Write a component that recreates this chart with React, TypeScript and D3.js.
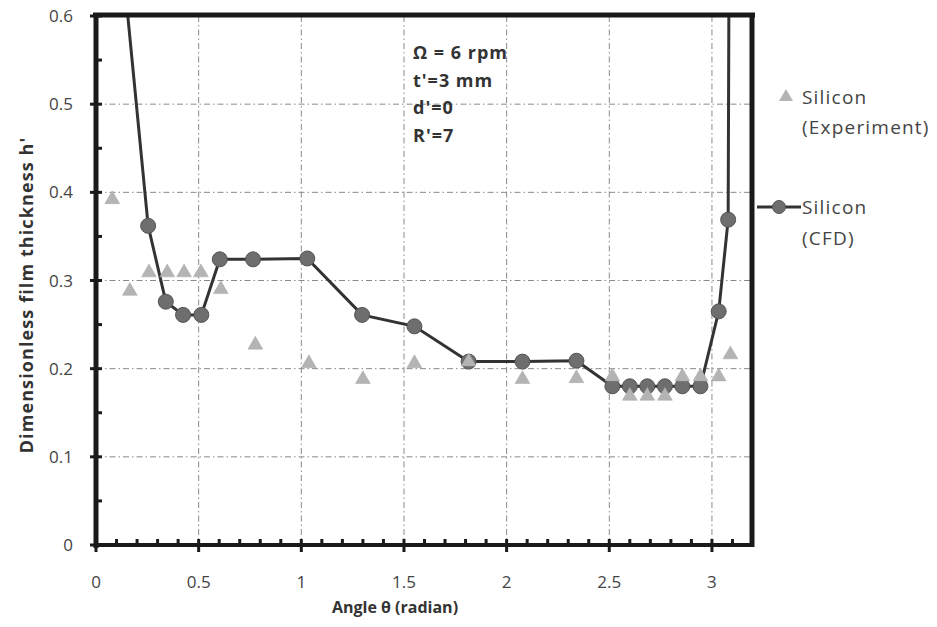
import React from "react";
import * as d3 from "d3";

// Silicon film thickness vs. angle
const cfdTheta = [0.08, 0.254, 0.34, 0.424, 0.513, 0.603, 0.765, 1.029, 1.296, 1.551, 1.815, 2.077, 2.34, 2.515, 2.6, 2.685, 2.771, 2.856, 2.944, 3.033, 3.079, 3.1];
const cfdH = [0.78, 0.362, 0.276, 0.261, 0.261, 0.324, 0.324, 0.325, 0.261, 0.248, 0.208, 0.208, 0.209, 0.18, 0.18, 0.18, 0.18, 0.18, 0.18, 0.265, 0.369, 1.8];

const expTheta = [0.079, 0.165, 0.258, 0.347, 0.429, 0.511, 0.608, 0.776, 1.037, 1.3, 1.551, 1.815, 2.077, 2.34, 2.515, 2.6, 2.685, 2.771, 2.856, 2.944, 3.033, 3.09];
const expH = [0.392, 0.288, 0.309, 0.309, 0.309, 0.309, 0.29, 0.227, 0.206, 0.188, 0.206, 0.208, 0.188, 0.189, 0.191, 0.169, 0.169, 0.169, 0.191, 0.191, 0.191, 0.216];

const xTicks = [0, 0.5, 1, 1.5, 2, 2.5, 3];
const xTickLabels = ["0", "0.5", "1", "1.5", "2", "2.5", "3"];
const yTicks = [0, 0.1, 0.2, 0.3, 0.4, 0.5, 0.6];
const yTickLabels = ["0", "0.1", "0.2", "0.3", "0.4", "0.5", "0.6"];
const annotations = ["Ω = 6 rpm", "t'=3 mm", "d'=0", "R'=7"];

const W = 937;
const H = 627;
const L = 96, R = 752, T = 16, B = 545;

export default function App() {
  const x = d3.scaleLinear().domain([0, 3.2]).range([L, 753]);
  const y = d3.scaleLinear().domain([0, 0.6]).range([B, T]);

  const cfd = cfdTheta.map((t, i) => ({ t, h: cfdH[i] }));
  const exp = expTheta.map((t, i) => ({ t, h: expH[i] }));
  const line = d3.line<{ t: number; h: number }>().x((d) => x(d.t)).y((d) => y(d.h));
  const tri = d3.symbol().type(d3.symbolTriangle).size(95)();
  const legendTri = d3.symbol().type(d3.symbolTriangle).size(85)();

  const minorX = d3.range(1, 32).map((i) => i / 10).filter((v) => Math.abs(v * 2 - Math.round(v * 2)) > 1e-6);
  const minorY = [0.05, 0.15, 0.25, 0.35, 0.45, 0.55];

  const font = "'Open Sans', 'DejaVu Sans', sans-serif";

  return (
    <svg width={W} height={H} style={{ position: "absolute", left: 0, top: 0, background: "#fff" }}>
      <defs>
        <clipPath id="plotClip">
          <rect x={L} y={T} width={R - L} height={B - T} />
        </clipPath>
      </defs>

      {/* grid */}
      <g stroke="#8a8a8a" strokeWidth={1} strokeDasharray="6,3,1.5,3">
        {xTicks.slice(1).map((v) => (
          <line key={"gx" + v} x1={x(v)} x2={x(v)} y1={T} y2={B} />
        ))}
        {yTicks.slice(1, -1).map((v) => (
          <line key={"gy" + v} x1={L} x2={R} y1={y(v)} y2={y(v)} />
        ))}
      </g>

      {/* CFD line */}
      <g clipPath="url(#plotClip)">
        <path d={line(cfd) || ""} fill="none" stroke="#333" strokeWidth={3} />
        {cfd.filter((d) => d.h <= 0.6).map((d, i) => (
          <circle key={"c" + i} cx={x(d.t)} cy={y(d.h)} r={7.5} fill="#6e6e6e" stroke="#555" strokeWidth={1} />
        ))}
        {exp.map((d, i) => (
          <path key={"t" + i} d={tri || ""} transform={`translate(${x(d.t)},${y(d.h)})`} fill="#b4b4b4" stroke="#a8a8a8" strokeWidth={0.5} />
        ))}
      </g>

      {/* frame */}
      <g stroke="#1a1a1a" fill="none">
        <line x1={L - 3} x2={R + 3} y1={T - 1} y2={T - 1} strokeWidth={5} />
        <line x1={R} x2={R} y1={T - 3} y2={B + 2} strokeWidth={5} />
        <line x1={L} x2={L} y1={T - 3} y2={B + 3} strokeWidth={5} />
        <line x1={L} x2={R} y1={B} y2={B} strokeWidth={4} />
      </g>

      {/* ticks */}
      <g stroke="#1a1a1a">
        {xTicks.map((v) => (
          <line key={"xt" + v} x1={x(v)} x2={x(v)} y1={B - 6} y2={B + 7} strokeWidth={3} />
        ))}
        {minorX.map((v) => (
          <line key={"xm" + v} x1={x(v)} x2={x(v)} y1={B - 6} y2={B} strokeWidth={3} />
        ))}
        {yTicks.map((v) => (
          <line key={"yt" + v} x1={L - 6} x2={L + 6} y1={y(v)} y2={y(v)} strokeWidth={3} />
        ))}
        {minorY.map((v) => (
          <line key={"ym" + v} x1={L} x2={L + 6} y1={y(v)} y2={y(v)} strokeWidth={3} />
        ))}
      </g>

      {/* tick labels */}
      <g fontFamily={font} fontSize={17} fill="#444">
        {xTicks.map((v, i) => (
          <text key={"xl" + v} x={x(v)} y={588} textAnchor="middle">{xTickLabels[i]}</text>
        ))}
        {yTicks.map((v, i) => (
          <text key={"yl" + v} x={73} y={y(v) + 6} textAnchor="end">{yTickLabels[i]}</text>
        ))}
      </g>

      {/* axis titles */}
      <text x={395} y={613} textAnchor="middle" fontFamily={font} fontWeight="bold" fontSize={16} fill="#333">
        Angle  θ (radian)
      </text>
      <text transform="translate(33,295) rotate(-90)" textAnchor="middle" fontFamily={font} fontWeight="bold" fontSize={18} letterSpacing={1.1} fill="#333">
        Dimensionless film thickness  h'
      </text>

      {/* parameters */}
      <g fontFamily={font} fontWeight="bold" fontSize={18} letterSpacing={1} fill="#333">
        {annotations.map((s, i) => (
          <text key={s} x={413} y={59 + i * 27.5}>{s}</text>
        ))}
      </g>

      {/* legend */}
      <g fontFamily={font} fontSize={19} letterSpacing={1.2} fill="#444">
        <path d={legendTri || ""} transform="translate(786,97)" fill="#b4b4b4" />
        <text x={802} y={104}>Silicon</text>
        <text x={802} y={134}>(Experiment)</text>
        <line x1={757} x2={801} y1={207} y2={207} stroke="#333" strokeWidth={3} />
        <circle cx={779} cy={207} r={6.5} fill="#6e6e6e" stroke="#555" />
        <text x={802} y={214}>Silicon</text>
        <text x={802} y={245}>(CFD)</text>
      </g>
    </svg>
  );
}
